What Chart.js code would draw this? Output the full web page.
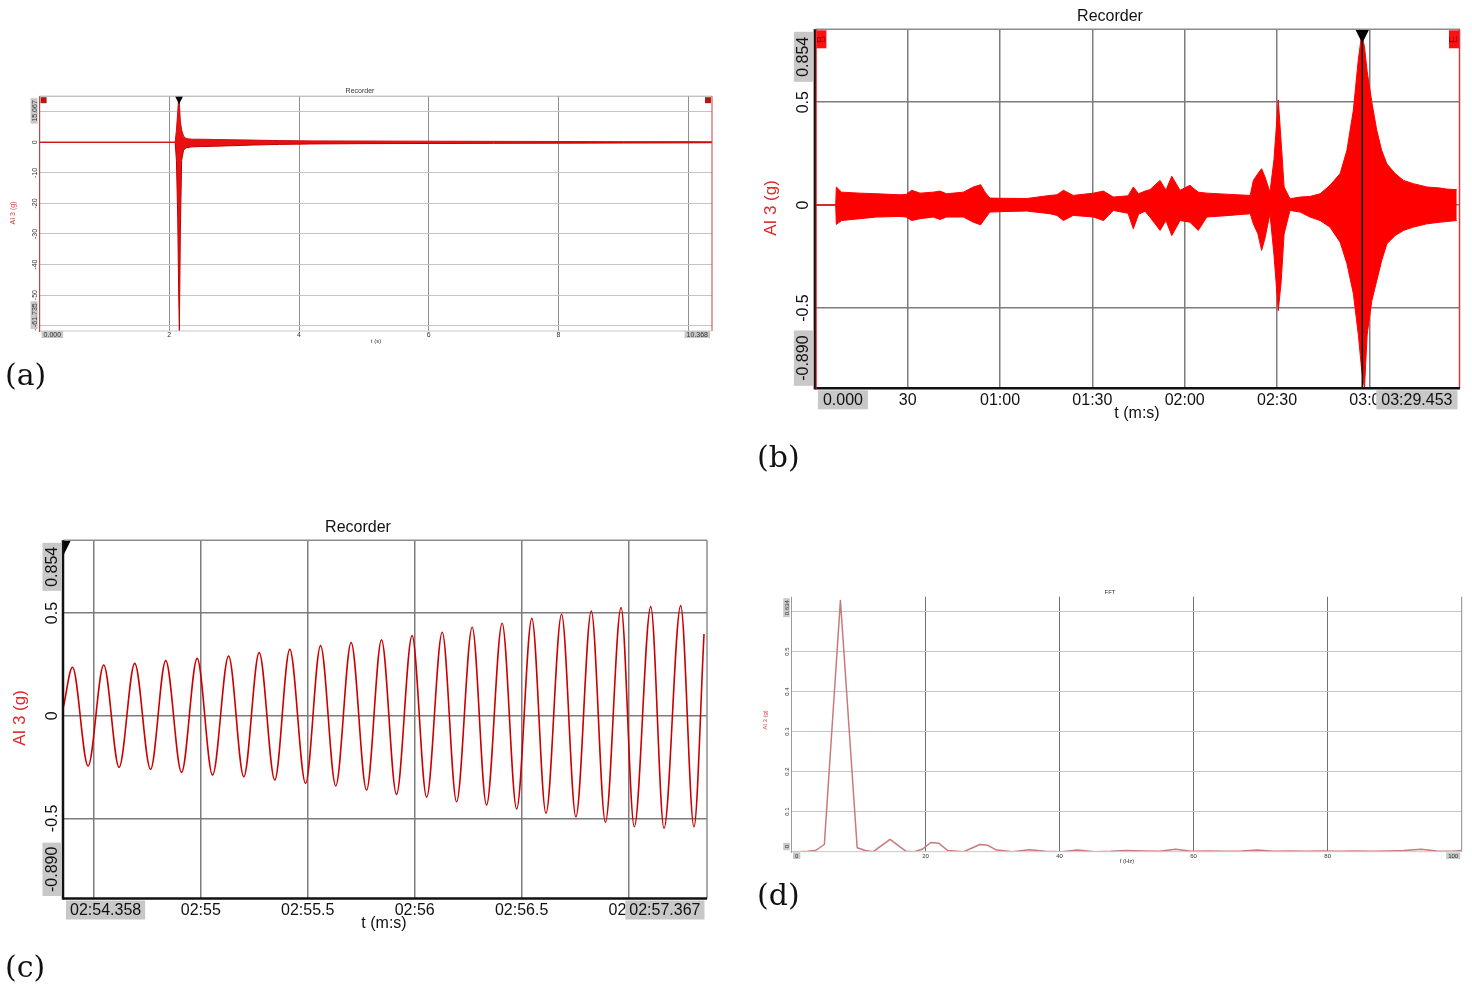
<!DOCTYPE html>
<html>
<head>
<meta charset="utf-8">
<title>Recorder / FFT</title>
<script src="https://cdn.jsdelivr.net/npm/chart.js@4.4.1/dist/chart.umd.min.js"></script>
<style>
  html, body { margin: 0; padding: 0; background: #fff; }
  #page { position: relative; width: 1472px; height: 991px; overflow: hidden; }
  #page canvas { position: absolute; left: 0; top: 0; }
  .tag { position: absolute; font-family: "DejaVu Serif", serif; font-size: 30px; line-height: 30px; color: #111; }
</style>
</head>
<body>
<div id="page">
  <canvas id="chartA" width="1472" height="991"></canvas>
  <canvas id="chartB" width="1472" height="991"></canvas>
  <canvas id="chartC" width="1472" height="991"></canvas>
  <canvas id="chartD" width="1472" height="991"></canvas>
  <div class="tag" style="left:5px; top:360px">(a)</div>
  <div class="tag" style="left:757px; top:442px">(b)</div>
  <div class="tag" style="left:5px; top:952px">(c)</div>
  <div class="tag" style="left:757px; top:880px">(d)</div>
</div>
<script>
// (a) whole impact record, envelope of the signal (s, g)
const aTime  = [0, 2.09, 2.11, 2.13, 2.145, 2.155, 2.17, 2.19, 2.22, 2.26, 2.35, 2.5, 2.7, 3.0, 3.3, 3.7, 4.2, 5.0, 6.0, 7.0, 8.0, 9.0, 10.0, 10.368];
const aUpper = [0, 0, 4, 10, 15.0, 13, 7, 4, 2, 1.2, 1.0, 1.0, 0.9, 0.8, 0.7, 0.55, 0.45, 0.4, 0.35, 0.3, 0.25, 0.2, 0.2, 0.15];
const aLower = [0, 0, -6, -25, -50, -61.7, -30, -6, -2.5, -1.8, -1.5, -1.4, -1.3, -1.1, -0.9, -0.7, -0.55, -0.45, -0.4, -0.35, -0.3, -0.25, -0.2, -0.15];
const aXTicks = [2, 4, 6, 8, 10];
const aXText  = ['2', '4', '6', '8', '10'];
const aYTicks = [10, 0, -10, -20, -30, -40, -50, -60];
const aYText  = ['10', '0', '-10', '-20', '-30', '-40', '-50', '-60'];
const aTrigger = 2.15;

// (b) 3.5 minute record, envelope (s, g)
const bTime  = [0, 6.6, 6.8, 8.5, 14.5, 19.9, 27.5, 29.5, 31.3, 34, 38.3, 40.5, 42.6, 48.1, 51.3, 53.7, 55.1, 56.7, 62, 68.7,
                76.2, 78.5, 80.6, 83.8, 90.3, 93.6, 96.8, 101.6, 103.3, 105, 107.1, 108.7, 112, 113.9, 115.8, 118.5, 121.7, 124.4, 127.2, 134.7,
                141.3, 142.3, 143.8, 145, 146.1, 147.7, 149, 150.4, 151.3, 152.3, 154.2, 157.5, 160.7, 164, 167.2, 170.5, 172.7, 174.8, 176.4, 177.5,
                178.4, 179.3, 180.8, 182.4, 184, 185.7, 188.4, 191.1, 194.3, 198.7, 203, 205, 208.4];
const bUpper = [0, 0, 0.088, 0.063, 0.058, 0.055, 0.050, 0.052, 0.072, 0.058, 0.063, 0.068, 0.055, 0.063, 0.088, 0.099, 0.063, 0.034, 0.033, 0.032,
                0.047, 0.050, 0.072, 0.047, 0.058, 0.068, 0.039, 0.045, 0.088, 0.055, 0.068, 0.075, 0.12, 0.072, 0.14, 0.072, 0.096, 0.063, 0.058, 0.052,
                0.047, 0.12, 0.153, 0.177, 0.136, 0.063, 0.22, 0.51, 0.315, 0.088, 0.031, 0.039, 0.042, 0.055, 0.096, 0.153, 0.266, 0.461, 0.705, 0.83,
                0.77, 0.648, 0.5, 0.364, 0.266, 0.2, 0.153, 0.12, 0.104, 0.088, 0.083, 0.078, 0.075];
const bLower = [0, 0, -0.094, -0.075, -0.066, -0.058, -0.055, -0.058, -0.075, -0.066, -0.058, -0.07, -0.058, -0.058, -0.083, -0.096, -0.066, -0.034, -0.031, -0.029,
                -0.042, -0.05, -0.075, -0.05, -0.058, -0.075, -0.026, -0.04, -0.115, -0.045, -0.03, -0.058, -0.123, -0.075, -0.148, -0.075, -0.083, -0.123, -0.058, -0.05,
                -0.042, -0.091, -0.14, -0.22, -0.16, -0.042, -0.24, -0.513, -0.38, -0.14, -0.026, -0.034, -0.058, -0.075, -0.107, -0.18, -0.284, -0.43, -0.627, -0.80,
                -0.89, -0.627, -0.465, -0.367, -0.27, -0.188, -0.148, -0.123, -0.107, -0.091, -0.083, -0.08, -0.075];
const bXTicks = [30, 60, 90, 120, 150, 180];
const bXText  = ['30', '01:00', '01:30', '02:00', '02:30', '03:00'];
const bYTicks = [0.5, 0, -0.5];
const bYText  = ['0.5', '0', '-0.5'];
const bCursor = 177.7;

// (c) zoom 02:54.358 - 02:57.367, peaks and troughs of the oscillation (s, g)
const cTime  = [174.358, 174.400, 174.473, 174.546, 174.618, 174.691, 174.765, 174.836, 174.910, 174.983,
                175.055, 175.130, 175.201, 175.273, 175.346, 175.416, 175.490, 175.560, 175.631, 175.703,
                175.775, 175.845, 175.915, 175.988, 176.056, 176.129, 176.196, 176.269, 176.336, 176.409,
                176.477, 176.548, 176.614, 176.687, 176.754, 176.826, 176.892, 176.965, 177.027, 177.104,
                177.166, 177.244, 177.306, 177.353];
const cValue = [0.044, 0.236, -0.245, 0.247, -0.251, 0.255, -0.261, 0.268, -0.276, 0.279,
                -0.289, 0.291, -0.297, 0.307, -0.313, 0.323, -0.329, 0.341, -0.342, 0.356,
                -0.362, 0.369, -0.383, 0.39, -0.397, 0.406, -0.419, 0.431, -0.435, 0.45,
                -0.454, 0.474, -0.475, 0.494, -0.492, 0.51, -0.519, 0.526, -0.541, 0.531,
                -0.548, 0.536, -0.541, 0.398];
const cXTicks = [174.5, 175, 175.5, 176, 176.5, 177];
const cXText  = ['02:54.5', '02:55', '02:55.5', '02:56', '02:56.5', '02:57'];
const cYTicks = [0.5, 0, -0.5];
const cYText  = ['0.5', '0', '-0.5'];
const cCursor = 174.36;

// (d) FFT spectrum (Hz, g)
const dFreq  = [0, 1.2, 2.4, 3.6, 4.9, 7.3, 9.8, 11.0, 12.2, 14.7, 17.1, 18.3, 19.5, 20.8, 22.0, 23.3, 25.7, 28.1, 29.3, 30.6,
                33.0, 35.5, 37.9, 40.3, 42.7, 45.2, 47.6, 50.0, 52.5, 54.9, 57.3, 59.7, 62.2, 64.6, 67.1, 69.5, 71.9, 74.4, 76.8, 79.2,
                81.7, 84.1, 86.6, 89.0, 91.4, 93.9, 96.3, 98.7, 100];
const dValue = [0, 0, 0.001, 0.003, 0.018, 0.628, 0.01, 0.003, 0.0, 0.031, 0.001, 0.0, 0.006, 0.023, 0.021, 0.003, 0.0, 0.018, 0.016, 0.004,
                0.0, 0.005, 0.001, 0.0, 0.004, 0.0, 0.001, 0.003, 0.002, 0.001, 0.006, 0.001, 0.002, 0.001, 0.002, 0.004, 0.001, 0.002, 0.001, 0.002,
                0.001, 0.002, 0.001, 0.002, 0.003, 0.006, 0.002, 0.001, 0.003];
const dXTicks = [20, 40, 60, 80];
const dXText  = ['20', '40', '60', '80'];
const dYTicks = [0.6, 0.5, 0.4, 0.3, 0.2, 0.1];
const dYText  = ['0.6', '0.5', '0.4', '0.3', '0.2', '0.1'];

const FONT = '"Liberation Sans", Arial, sans-serif';

function pts(xs, ys) {
    return xs.map((x, i) => ({x: x, y: ys[i]}));
}

function stroke(ctx, x1, y1, x2, y2, color, width) {
    ctx.beginPath();
    ctx.strokeStyle = color;
    ctx.lineWidth = width;
    ctx.moveTo(x1, y1);
    ctx.lineTo(x2, y2);
    ctx.stroke();
}

// text, optionally rotated (reads bottom to top) and with a grey box behind it
function label(ctx, str, x, y, s) {
    ctx.save();
    ctx.translate(x, y);
    if (s.rotate) ctx.rotate(-Math.PI / 2);
    ctx.font = s.size + 'px ' + FONT;
    ctx.textBaseline = 'middle';
    const align = s.align || 'center';
    if (s.box) {
        const w = ctx.measureText(str).width + 2 * s.pad;
        const x0 = align === 'left' ? 0 : align === 'right' ? -w : -w / 2;
        ctx.fillStyle = s.box;
        ctx.fillRect(x0, -s.boxH / 2, w, s.boxH);
        ctx.fillStyle = s.color;
        ctx.textAlign = 'left';
        ctx.fillText(str, x0 + s.pad, 0.5);
    } else {
        ctx.fillStyle = s.color;
        ctx.textAlign = align;
        ctx.fillText(str, 0, 0.5);
    }
    ctx.restore();
}

// frame, markers, tick labels and titles in the style of the recorder software
const decor = {
    id: 'decor',
    afterDraw(chart, _args, o) {
        const ctx = chart.ctx, a = chart.chartArea;
        const xs = chart.scales.x, ys = chart.scales.y;
        ctx.save();

        if (o.cursor) {
            const px = xs.getPixelForValue(o.cursor.value);
            const s = o.cursor.size;
            ctx.save();
            ctx.beginPath();
            ctx.rect(a.left, a.top - 1, a.right - a.left, a.bottom - a.top + 1);
            ctx.clip();
            if (o.cursor.line) stroke(ctx, px, a.top, px, a.bottom, '#000', o.cursor.line);
            ctx.fillStyle = '#000';
            ctx.beginPath();
            ctx.moveTo(px - s / 2, a.top);
            ctx.lineTo(px + s / 2, a.top);
            ctx.lineTo(px, a.top + s);
            ctx.closePath();
            ctx.fill();
            ctx.restore();
        }

        const f = o.frame;
        (f.top || []).forEach(([c, w, d = 0]) => stroke(ctx, a.left, a.top + d, a.right, a.top + d, c, w));
        (f.right || []).forEach(([c, w, d = 0]) => stroke(ctx, a.right + d, a.top, a.right + d, a.bottom, c, w));
        (f.bottom || []).forEach(([c, w, d = 0]) => stroke(ctx, a.left - 1, a.bottom + d, a.right, a.bottom + d, c, w));
        (f.left || []).forEach(([c, w, d = 0]) => stroke(ctx, a.left + d, a.top, a.left + d, a.bottom + 1, c, w));

        if (o.ends) {
            const e = o.ends;
            ctx.fillStyle = e.color;
            ctx.fillRect(a.left + e.inset, a.top + e.inset, e.w, e.h);
            ctx.fillRect(a.right - e.inset - e.w, a.top + e.inset, e.w, e.h);
            if (e.letters) {
                const s = {size: e.w, color: e.textColor, rotate: true};
                label(ctx, e.letters[0], a.left + e.inset + e.w / 2, a.top + e.inset + e.h / 2, s);
                label(ctx, e.letters[1], a.right - e.inset - e.w / 2, a.top + e.inset + e.h / 2, s);
            }
        }

        const t = o.ticks;
        const plain = {size: t.size, color: t.color};
        o.xTicks.forEach((v, i) => label(ctx, o.xText[i], xs.getPixelForValue(v), a.bottom + t.xGap, plain));
        o.yTicks.forEach((v, i) => label(ctx, o.yText[i], a.left - t.yGap, ys.getPixelForValue(v), {...plain, rotate: true}));
        const boxed = {size: t.size, color: t.color, box: '#c8c8c8', pad: t.pad, boxH: t.boxH};
        label(ctx, o.xEnds[0], a.left + t.inset, a.bottom + t.xGap, {...boxed, align: 'left'});
        label(ctx, o.xEnds[1], a.right - t.inset, a.bottom + t.xGap, {...boxed, align: 'right'});
        label(ctx, o.yEnds[0], a.left - t.yGap, a.bottom - t.inset, {...boxed, align: 'left', rotate: true});
        label(ctx, o.yEnds[1], a.left - t.yGap, a.top + t.inset, {...boxed, align: 'right', rotate: true});

        o.titles.forEach(s => label(ctx, s.text, s.x, s.y, s));
        ctx.restore();
    }
};

function makeChart(id, datasets, p) {
    const fixTicks = vals => scale => { scale.ticks = vals.map(v => ({value: v})); };
    return new Chart(document.getElementById(id), {
        type: 'line',
        data: {datasets: datasets},
        options: {
            responsive: false,
            animation: false,
            events: [],
            layout: {padding: {left: p.area[0], top: p.area[1], right: 1472 - p.area[2], bottom: 991 - p.area[3]}},
            scales: {
                x: {
                    type: 'linear', min: p.x.min, max: p.x.max,
                    afterBuildTicks: fixTicks(p.x.grid),
                    ticks: {display: false},
                    border: {display: false},
                    grid: {color: p.x.color, lineWidth: p.x.width, drawTicks: false}
                },
                y: {
                    type: 'linear', min: p.y.min, max: p.y.max,
                    afterBuildTicks: fixTicks(p.y.grid),
                    ticks: {display: false},
                    border: {display: false},
                    grid: {color: p.y.color, lineWidth: p.y.width, drawTicks: false}
                }
            },
            elements: {point: {radius: 0}, line: {borderJoinStyle: 'round'}},
            plugins: {legend: {display: false}, tooltip: {enabled: false}, decor: p.decor}
        },
        plugins: [decor]
    });
}

// (a)
makeChart('chartA', [
    {data: pts(aTime, aUpper), borderColor: '#d01010', borderWidth: 1, fill: false},
    {data: pts(aTime, aLower), borderColor: '#c00000', borderWidth: 1, fill: '-1', backgroundColor: '#e81010'}
], {
    area: [39.6, 96.2, 712, 331],
    x: {min: 0, max: 10.368, grid: aXTicks, color: '#909090', width: 1},
    y: {min: -61.735, max: 15.067, grid: aYTicks, color: '#c4c4c4', width: 1},
    decor: {
        cursor: {value: aTrigger, size: 8},
        frame: {top: [['#a8a8a8', 1]], right: [['#c84040', 1]], bottom: [['#c8c8c8', 1]], left: [['#c84040', 1.2]]},
        ends: {color: '#b01818', inset: 1, w: 6, h: 6},
        ticks: {size: 7, color: '#333', xGap: 3.5, yGap: 5.5, pad: 2, boxH: 7, inset: 2},
        xTicks: aXTicks.slice(0, 4), xText: aXText.slice(0, 4), xEnds: ['0.000', '10.368'],
        yTicks: aYTicks, yText: aYText, yEnds: ['-61.735', '15.067'],
        titles: [
            {text: 'Recorder', x: 360, y: 91, size: 7, color: '#333'},
            {text: 'AI 3 (g)', x: 13, y: 213, size: 7, color: '#d04040', rotate: true},
            {text: 't (s)', x: 376, y: 341, size: 6, color: '#333'}
        ]
    }
});

// (b)
makeChart('chartB', [
    {data: pts(bTime, bUpper), borderColor: '#ff0000', borderWidth: 1, fill: false},
    {data: pts(bTime, bLower), borderColor: '#ff0000', borderWidth: 1, fill: '-1', backgroundColor: '#ff0000'}
], {
    area: [815.4, 29.3, 1460, 388.3],
    x: {min: 0, max: 209.453, grid: bXTicks, color: '#7c7c7c', width: 1.5},
    y: {min: -0.890, max: 0.854, grid: bYTicks, color: '#7c7c7c', width: 1.5},
    decor: {
        cursor: {value: bCursor, size: 14, line: 1.5},
        frame: {top: [['#8c8c8c', 1.5]], right: [['#d03c3c', 1.5, -0.5]], bottom: [['#111', 2.5]], left: [['#111', 2.5, -0.5], ['#e02020', 1, 0.8]]},
        ends: {color: '#ff1010', inset: 1, w: 10, h: 18, letters: ['B', 'E'], textColor: '#900000'},
        ticks: {size: 16, color: '#111', xGap: 11.5, yGap: 12, pad: 5, boxH: 19, inset: 2.5},
        xTicks: bXTicks, xText: bXText, xEnds: ['0.000', '03:29.453'],
        yTicks: bYTicks, yText: bYText, yEnds: ['-0.890', '0.854'],
        titles: [
            {text: 'Recorder', x: 1110, y: 16, size: 16, color: '#111'},
            {text: 'AI 3 (g)', x: 771, y: 208, size: 17, color: '#e02828', rotate: true},
            {text: 't (m:s)', x: 1137, y: 413, size: 16, color: '#111'}
        ]
    }
});

// (c)
makeChart('chartC', [
    {data: pts(cTime, cValue), borderColor: '#cc0000', borderWidth: 1.6, fill: false, cubicInterpolationMode: 'monotone'}
], {
    area: [63.5, 540.3, 707, 898.5],
    x: {min: 174.358, max: 177.367, grid: cXTicks, color: '#7c7c7c', width: 1.5},
    y: {min: -0.890, max: 0.854, grid: cYTicks, color: '#7c7c7c', width: 1.5},
    decor: {
        cursor: {value: cCursor, size: 14},
        frame: {top: [['#8c8c8c', 1.5]], right: [['#8c8c8c', 1.5]], bottom: [['#111', 2.5]], left: [['#111', 2.5, -0.5]]},
        ticks: {size: 16, color: '#111', xGap: 11.5, yGap: 11.5, pad: 4, boxH: 19, inset: 2.5},
        xTicks: cXTicks, xText: cXText, xEnds: ['02:54.358', '02:57.367'],
        yTicks: cYTicks, yText: cYText, yEnds: ['-0.890', '0.854'],
        titles: [
            {text: 'Recorder', x: 358, y: 527, size: 16, color: '#111'},
            {text: 'AI 3 (g)', x: 20, y: 718, size: 17, color: '#e02828', rotate: true},
            {text: 't (m:s)', x: 384, y: 923, size: 16, color: '#111'}
        ]
    }
});

// (d)
makeChart('chartD', [
    {data: pts(dFreq, dValue), borderColor: '#c87a7a', borderWidth: 1.5, fill: false}
], {
    area: [791.5, 596.7, 1461.7, 851.7],
    x: {min: 0, max: 100, grid: dXTicks, color: '#707070', width: 1},
    y: {min: 0, max: 0.6375, grid: dYTicks, color: '#c4c4c4', width: 1},
    decor: {
        frame: {right: [['#8c8c8c', 1]], bottom: [['#c8c8c8', 1]], left: [['#9a9a9a', 1]]},
        ticks: {size: 6, color: '#333', xGap: 4, yGap: 5, pad: 2, boxH: 6.5, inset: 1.5},
        xTicks: dXTicks, xText: dXText, xEnds: ['0', '100'],
        yTicks: dYTicks, yText: dYText, yEnds: ['0', '0.634'],
        titles: [
            {text: 'FFT', x: 1110, y: 592, size: 6, color: '#333'},
            {text: 'AI 3 (g)', x: 765, y: 720, size: 6, color: '#d04040', rotate: true},
            {text: 'f (Hz)', x: 1127, y: 861, size: 6, color: '#333'}
        ]
    }
});
</script>
</body>
</html>
